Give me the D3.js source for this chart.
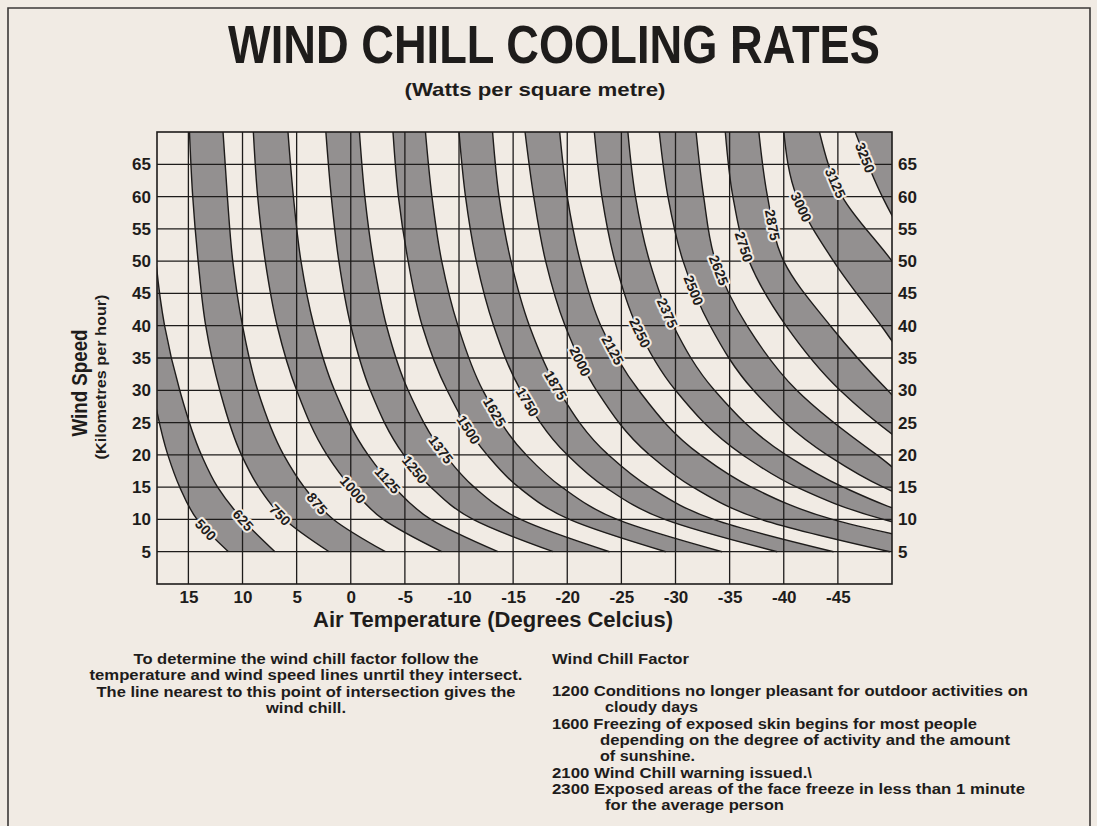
<!DOCTYPE html>
<html><head><meta charset="utf-8">
<script src="https://cdn.jsdelivr.net/npm/d3@7/dist/d3.min.js"></script>
<style>
body{margin:0;background:#f1ebe4;}
text{font-family:"Liberation Sans",Arial,sans-serif;font-weight:bold;fill:#1e1c1b;}
</style></head><body>
<svg id="chart" width="1097" height="826"></svg>
<script>
// ---------- data ----------
const windLevels = [5, 10, 15, 20, 30, 40, 50, 60, 70];
const lineValues = [500,625,750,875,1000,1125,1250,1375,1500,1625,1750,1875,2000,2125,2250,2375,2500,2625,2750,2875,3000,3125,3250,3375];
// air temperature (deg C) where each cooling-rate line crosses each wind level
const line500  = [11.3, 14.2, 15.8, 16.9, 18.3, 19.2, 19.8, 20.2, 20.5];
const line625  = [7.0, 10.0, 12.3, 13.8, 15.8, 17.2, 18.0, 18.4, 18.7];
const line750  = [2.0, 6.1, 8.5, 10.1, 12.1, 13.4, 14.1, 14.6, 14.9];
const line875  = [-3.2, 1.6, 4.3, 6.2, 8.6, 10.0, 10.9, 11.4, 11.8];
const line1000 = [-8.4, -3.0, 0.0, 2.2, 5.0, 6.8, 7.9, 8.6, 9.0];
const line1125 = [-13.6, -7.4, -4.0, -1.6, 1.5, 3.4, 4.6, 5.3, 5.8];
const line1250 = [-18.7, -11.3, -7.4, -4.9, -1.8, 0.0, 1.1, 1.8, 2.3];
const line1375 = [-23.9, -15.7, -11.4, -8.7, -5.3, -3.3, -2.1, -1.3, -0.8];
const line1500 = [-29.1, -20.2, -15.5, -12.6, -8.9, -6.6, -5.3, -4.4, -3.9];
const line1625 = [-34.3, -24.6, -19.5, -16.2, -12.2, -9.9, -8.4, -7.5, -6.9];
const line1750 = [-39.4, -29.0, -23.5, -20.0, -15.7, -13.2, -11.6, -10.6, -10.0];
const line1875 = [-44.6, -33.5, -27.6, -23.8, -19.2, -16.5, -14.8, -13.7, -13.1];
const line2000 = [-49.8, -37.9, -31.6, -27.6, -22.7, -19.8, -18.0, -16.9, -16.1];
const line2125 = [-58.0, -44.5, -37.0, -32.3, -26.6, -23.1, -21.2, -20.0, -19.3];
const line2250 = [-63.0, -49.2, -41.2, -36.2, -30.0, -26.4, -24.4, -23.2, -22.5];
const line2375 = [-68.0, -53.5, -45.5, -40.2, -33.6, -29.8, -27.6, -26.3, -25.6];
const line2500 = [-72.0, -57.0, -49.2, -44.0, -37.2, -33.2, -30.7, -29.3, -28.5];
const line2625 = [-77.0, -62.0, -53.0, -48.6, -41.2, -36.6, -33.7, -32.6, -31.9];
const line2750 = [-82.0, -66.0, -58.0, -52.8, -45.2, -40.2, -36.8, -35.3, -34.6];
const line2875 = [-88.0, -71.0, -62.0, -56.0, -49.6, -44.3, -40.0, -38.5, -37.7];
const line3000 = [-93.0, -76.0, -67.0, -61.0, -53.5, -49.0, -44.6, -41.2, -40.0];
const line3125 = [-98.0, -80.0, -71.0, -65.0, -58.0, -54.0, -50.0, -45.4, -43.3];
const line3250 = [-103.0, -85.0, -75.0, -69.0, -62.0, -57.0, -52.5, -49.1, -46.6];
const line3375 = [-108.0, -90.0, -80.0, -73.0, -66.0, -61.0, -57.0, -54.0, -51.5];
const lineTemps = [line500,line625,line750,line875,line1000,line1125,line1250,line1375,line1500,line1625,line1750,line1875,line2000,line2125,line2250,line2375,line2500,line2625,line2750,line2875,line3000,line3125,line3250,line3375];
// wind speed at which each line's label sits
const labelWinds = [8.4,9.9,10.7,12.5,14.6,16.1,17.7,20.8,23.9,26.6,28.2,30.8,34.5,36.2,38.9,42.0,45.5,48.6,52.2,55.6,58.4,62.1,66.0];
const tempTicks = [15,10,5,0,-5,-10,-15,-20,-25,-30,-35,-40,-45];
const windTicks = [5,10,15,20,25,30,35,40,45,50,55,60,65];
const titleText = "WIND CHILL COOLING RATES";
const subtitleText = "(Watts per square metre)";
const xTitle = "Air Temperature (Degrees Celcius)";
const yTitle = "Wind Speed";
const yTitleSub = "(Kilometres per hour)";
const noteLeft = ["To determine the wind chill factor follow the","temperature and wind speed lines unrtil they intersect.","The line nearest to this point of intersection gives the","wind chill."];
const noteRightHead = "Wind Chill Factor";
const noteRight = [
  ["1200 Conditions no longer pleasant for outdoor activities on", 0],
  ["cloudy days", 1],
  ["1600 Freezing of exposed skin begins for most people", 0],
  ["depending on the degree of activity and the amount", 2],
  ["of sunshine.", 2],
  ["2100 Wind Chill warning issued.\\", 0],
  ["2300 Exposed areas of the face freeze in less than 1 minute", 0],
  ["for the average person", 1]
];

// ---------- layout ----------
const W = 1097, H = 826;
const P = {left:157, right:892, top:132, bottom:584};
const ink = "#1e1c1b", paper = "#f1ebe4", shade = "#939090";
const svg = d3.select("#chart");
svg.append("rect").attr("width",W).attr("height",H).attr("fill",paper);
svg.append("path").attr("d","M8,840V8H1090V840").attr("fill","none").attr("stroke","#3b3937").attr("stroke-width",1.6);

const x = d3.scaleLinear().domain([17.9,-50]).range([P.left,P.right]);
const y = d3.scaleLinear().domain([0,70]).range([P.bottom,P.top]);

svg.append("clipPath").attr("id","plotclip").append("rect")
  .attr("x",P.left).attr("y",P.top).attr("width",P.right-P.left).attr("height",P.bottom-P.top);
const g = svg.append("g").attr("clip-path","url(#plotclip)");

// bands
const rev = a => a.slice().reverse();
const area = d3.area().curve(d3.curveMonotoneY)
  .y(d=>y(d.w)).x0(d=>x(d.a)).x1(d=>x(d.b));
for (let i=0;i+1<lineTemps.length;i+=2){
  const pts = rev(windLevels.map((w,j)=>({w, a:lineTemps[i][j], b:lineTemps[i+1][j]})));
  g.append("path").attr("d",area(pts)).attr("fill",shade);
}
// grid
g.selectAll("line.vg").data(tempTicks).join("line").attr("class","vg")
  .attr("x1",d=>x(d)).attr("x2",d=>x(d)).attr("y1",P.top).attr("y2",P.bottom)
  .attr("stroke",ink).attr("stroke-width",1.3);
g.selectAll("line.hg").data(windTicks).join("line").attr("class","hg")
  .attr("y1",d=>y(d)).attr("y2",d=>y(d)).attr("x1",P.left).attr("x2",P.right)
  .attr("stroke",ink).attr("stroke-width",1.3);
// contour lines
const line = d3.line().curve(d3.curveMonotoneY).x(d=>x(d.t)).y(d=>y(d.w));
const paths = lineTemps.map((ts,i)=>
  g.append("path").attr("d",line(rev(windLevels.map((w,j)=>({w,t:ts[j]})))))
   .attr("fill","none").attr("stroke",ink).attr("stroke-width",1.4).node());
// frame
svg.append("rect").attr("x",P.left).attr("y",P.top).attr("width",P.right-P.left).attr("height",P.bottom-P.top)
  .attr("fill","none").attr("stroke",ink).attr("stroke-width",1.6);

// labels
labelWinds.forEach((lw,i)=>{
  const p = paths[i], L = p.getTotalLength(), yt = y(lw);
  let best=0, bd=1e9;
  for (let l=0;l<=L;l+=0.5){ const q=p.getPointAtLength(l); const dd=Math.abs(q.y-yt); if(dd<bd){bd=dd;best=l;} }
  const c = p.getPointAtLength(best), a=p.getPointAtLength(Math.max(0,best-4)), b=p.getPointAtLength(Math.min(L,best+4));
  let ang = Math.atan2(b.y-a.y,b.x-a.x)*180/Math.PI;
  if (b.x-a.x<0) ang += 180;
  svg.append("text").attr("transform",`translate(${c.x},${c.y}) rotate(${ang})`)
    .attr("text-anchor","middle").attr("dominant-baseline","central")
    .attr("font-size",14).attr("stroke",paper).attr("stroke-width",4).attr("paint-order","stroke")
    .attr("stroke-linejoin","round").text(lineValues[i]);
});

// axes
const styleAxis = sel => { sel.select(".domain").remove(); sel.attr("font-family",null).attr("font-size",null);
  sel.selectAll("text").attr("font-size",17).attr("fill",ink); };
const fmt = d => String(d);
svg.append("g").attr("transform",`translate(${P.left},0)`).call(d3.axisLeft(y).tickValues(windTicks).tickFormat(fmt).tickSize(0).tickPadding(6)).call(styleAxis);
svg.append("g").attr("transform",`translate(${P.right},0)`).call(d3.axisRight(y).tickValues(windTicks).tickFormat(fmt).tickSize(0).tickPadding(6)).call(styleAxis);
svg.append("g").attr("transform",`translate(0,${P.bottom})`).call(d3.axisBottom(x).tickValues(tempTicks).tickFormat(fmt).tickSize(0).tickPadding(7)).call(styleAxis);

// titles
svg.append("text").attr("x",554).attr("y",63).attr("text-anchor","middle").attr("font-size",53)
  .attr("textLength",652).attr("lengthAdjust","spacingAndGlyphs").text(titleText);
svg.append("text").attr("x",535).attr("y",96).attr("text-anchor","middle").attr("font-size",19)
  .attr("textLength",261).attr("lengthAdjust","spacingAndGlyphs").text(subtitleText);
svg.append("text").attr("x",493).attr("y",627).attr("text-anchor","middle").attr("font-size",22)
  .attr("textLength",360).attr("lengthAdjust","spacingAndGlyphs").text(xTitle);
svg.append("text").attr("transform","translate(87,383) rotate(-90)").attr("text-anchor","middle").attr("font-size",22)
  .attr("textLength",107).attr("lengthAdjust","spacingAndGlyphs").text(yTitle);
svg.append("text").attr("transform","translate(106,377) rotate(-90)").attr("text-anchor","middle").attr("font-size",14.5)
  .attr("textLength",165).attr("lengthAdjust","spacingAndGlyphs").text(yTitleSub);

// notes
const leftW = [345,433,419,80];
noteLeft.forEach((t,i)=>svg.append("text").attr("x",306).attr("y",664+i*16.3).attr("text-anchor","middle")
  .attr("font-size",14.5).attr("textLength",leftW[i]).attr("lengthAdjust","spacingAndGlyphs").text(t));
svg.append("text").attr("x",552).attr("y",664).attr("font-size",14.5).attr("textLength",137).attr("lengthAdjust","spacingAndGlyphs").text(noteRightHead);
const rightW = [476,93,425,410,95,260,473,179];
const indent = [552,605,600];
noteRight.forEach(([t,k],i)=>svg.append("text").attr("x",indent[k]).attr("y",696+i*16.3)
  .attr("font-size",14.5).attr("textLength",rightW[i]).attr("lengthAdjust","spacingAndGlyphs").text(t));
</script>
</body></html>
